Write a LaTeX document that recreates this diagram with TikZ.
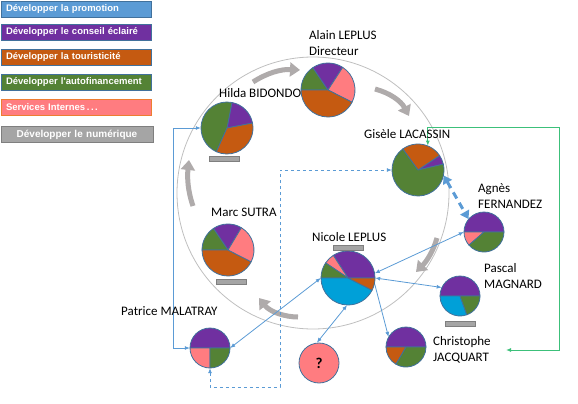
\documentclass[tikz,border=0pt]{standalone}
\usepackage{fontspec}
\setmainfont{Carlito}
\newfontfamily\legfont{Liberation Sans}
\usetikzlibrary{arrows.meta}
\definecolor{cblue}{HTML}{5B9BD5}
\definecolor{cpurple}{HTML}{7030A0}
\definecolor{corange}{HTML}{C55A11}
\definecolor{cgreen}{HTML}{548235}
\definecolor{cpink}{HTML}{FF7C80}
\definecolor{cgray}{HTML}{A5A5A5}
\definecolor{cgraydark}{HTML}{7F7F7F}
\definecolor{ccyan}{HTML}{00A0D8}
\definecolor{cedge}{HTML}{41719C}
\definecolor{cpinkedge}{HTML}{ED7D31}
\definecolor{carrow}{HTML}{AFABAB}
\definecolor{cline}{HTML}{5B9BD5}
\definecolor{cgreenline}{HTML}{3CC07A}
\definecolor{cring}{HTML}{BFBFBF}
\newcommand{\myslice}[5]{\filldraw[fill=#5,draw=cedge,line width=0.8pt,line join=round] (#1) -- ++(#3:#2) arc[start angle=#3,end angle=#4,radius=#2] -- cycle;}
\tikzset{
  legbox/.style={draw=cedge, line width=1pt, rectangle, anchor=north west, minimum height=16pt, text width=140pt, inner xsep=5pt, inner ysep=0pt, text=white, font=\legfont\bfseries\fontsize{9.5}{11}\selectfont, align=left},
  pienode/.style={circle, inner sep=0pt, minimum size=#1},
  pname/.style={anchor=west, inner sep=0pt, align=left, font=\fontsize{13}{16}\selectfont},
  graybar/.style={fill=cgray, draw=cgraydark, line width=0.6pt, minimum width=30pt, minimum height=4.5pt, inner sep=0pt},
  garrow/.style={draw=carrow, line width=5pt, -{Triangle[length=10pt,width=14pt]}},
  conn/.style={draw=cline, line width=0.8pt, {Latex[length=5pt,width=4pt]}-{Latex[length=5pt,width=4pt]}},
  conn1/.style={draw=cline, line width=0.8pt, -{Latex[length=5pt,width=4pt]}},
}
\begin{document}
\begin{tikzpicture}[x=1pt,y=-1pt]
\useasboundingbox (0,0) rectangle (578,404);
% legend
\node[legbox, fill=cblue] (l1) at (0.5,1) {Développer la promotion};
\node[legbox, fill=cpurple] (l2) at (0.5,24) {Développer le conseil éclairé};
\node[legbox, fill=corange] (l3) at (0.5,49) {Développer la touristicité};
\node[legbox, fill=cgreen] (l4) at (0.5,74) {Développer l'autofinancement};
\node[legbox, fill=cpink, draw=cpinkedge] (l5) at (0.5,99) {Services Internes\,.\,.\,.};
\node[legbox, fill=cgray, draw=cgraydark, align=center, text width=142pt, font=\legfont\bfseries\fontsize{10}{11}\selectfont] (l6) at (0.5,126) {Développer le numérique};
% ring
\draw[cring, line width=0.8pt] (313,193) circle[radius=136pt];
% gray cycle arrows
\draw[garrow] (253,82) .. controls (267,73) and (281,69) .. (300,70);
\draw[garrow] (375,89) .. controls (390,93) and (401,101) .. (409,116);
\draw[garrow] (437,238) .. controls (433,252) and (426,262) .. (416,272);
\draw[garrow] (298,317) .. controls (285,317) and (270,312) .. (259,298);
\draw[garrow] (193,206) .. controls (188,192) and (187,178) .. (189,160);
% pie nodes
\node[pienode=54pt] (alain) at (328,90) {};
\node[pienode=52pt] (hilda) at (227,128) {};
\node[pienode=52pt] (gisele) at (418,170) {};
\node[pienode=40pt] (agnes) at (484,232) {};
\node[pienode=54pt] (nicole) at (348,278) {};
\node[pienode=52pt] (marc) at (228,250) {};
\node[pienode=40pt] (patrice) at (210,348) {};
\node[pienode=40pt] (pascal) at (460,296) {};
\node[pienode=40pt] (christophe) at (406,347) {};
\node[circle, fill=cpink, draw=cedge, line width=0.8pt, minimum size=40pt, inner sep=0pt, font=\bfseries\fontsize{15}{15}\selectfont] (q) at (319,363) {?};
% connectors
\coordinate (d1) at (280,387);
\coordinate (g1) at (559,127);
\coordinate (g2) at (559,350);
\coordinate (gend) at (506,350);
\draw[conn] (patrice.west) -- ++(-16,0) |- (hilda.west);
\draw[conn] (patrice.east) -- (nicole.west);
\draw[conn, dashed] (patrice.south) |- (d1) |- (gisele.west);
\draw[conn] (nicole.-92) -- (q.96);
\draw[conn] (nicole.10) -- (agnes.west);
\draw[conn] (nicole.east) -- (pascal.155);
\draw[conn1] (nicole.-12) -- (christophe.150);
\draw[draw=cgreenline, line width=1pt, {Latex[length=5pt,width=4pt]}-{Latex[length=5pt,width=4pt]}] (gisele.68) |- (g1) -- (g2) -- (gend);
\draw[draw=cblue, line width=3pt, dash pattern=on 7pt off 5pt, {Triangle[length=8pt,width=10pt]}-{Triangle[length=8pt,width=10pt]}] (gisele.-12) -- (agnes.140);
% pies
\myslice{alain.center}{27pt}{124}{180}{cgreen}
\myslice{alain.center}{27pt}{57}{124}{cpurple}
\myslice{alain.center}{27pt}{-27}{57}{cpink}
\myslice{alain.center}{27pt}{180}{333}{corange}
\myslice{hilda.center}{26pt}{11}{79}{cpurple}
\myslice{hilda.center}{26pt}{79}{246}{cgreen}
\myslice{hilda.center}{26pt}{246}{371}{corange}
\myslice{gisele.center}{26pt}{13}{34}{cpurple}
\myslice{gisele.center}{26pt}{34}{126}{corange}
\myslice{gisele.center}{26pt}{126}{373}{cgreen}
\myslice{agnes.center}{20pt}{0}{180}{cpurple}
\myslice{agnes.center}{20pt}{180}{221}{cpink}
\myslice{agnes.center}{20pt}{221}{360}{cgreen}
\myslice{nicole.center}{27pt}{0}{123}{cpurple}
\myslice{nicole.center}{27pt}{123}{146}{cpink}
\myslice{nicole.center}{27pt}{146}{180}{cgreen}
\myslice{nicole.center}{27pt}{180}{333}{ccyan}
\myslice{nicole.center}{27pt}{333}{360}{corange}
\myslice{marc.center}{26pt}{59}{124}{cpurple}
\myslice{marc.center}{26pt}{124}{180}{cgreen}
\myslice{marc.center}{26pt}{180}{333}{corange}
\myslice{marc.center}{26pt}{-27}{59}{cpink}
\myslice{patrice.center}{20pt}{0}{180}{cpurple}
\myslice{patrice.center}{20pt}{180}{270}{cpink}
\myslice{patrice.center}{20pt}{270}{360}{cgreen}
\myslice{pascal.center}{20pt}{0}{180}{cpurple}
\myslice{pascal.center}{20pt}{180}{290}{ccyan}
\myslice{pascal.center}{20pt}{290}{360}{cgreen}
\myslice{christophe.center}{20pt}{0}{180}{cpurple}
\myslice{christophe.center}{20pt}{180}{240}{corange}
\myslice{christophe.center}{20pt}{240}{360}{cgreen}
% gray bars
\node[graybar] (bh) at (224,159) {};
\node[graybar] (bn) at (348,248) {};
\node[graybar] (bm) at (231,282) {};
\node[graybar] (bp) at (460,324) {};
% labels
\node[pname] (talain) at (309,43) {Alain LEPLUS\\Directeur};
\node[pname] (thilda) at (219,93) {Hilda BIDONDO};
\node[pname] (tgisele) at (364,134) {Gisèle LACASSIN};
\node[pname] (tagnes) at (478,196) {Agnès\\FERNANDEZ};
\node[pname] (tnicole) at (312,237) {Nicole LEPLUS};
\node[pname] (tmarc) at (211,212) {Marc SUTRA};
\node[pname] (tpascal) at (484,276) {Pascal\\MAGNARD};
\node[pname] (tchristophe) at (433,350) {Christophe\\JACQUART};
\node[pname] (tpatrice) at (121,311) {Patrice MALATRAY};
\end{tikzpicture}
\end{document}
